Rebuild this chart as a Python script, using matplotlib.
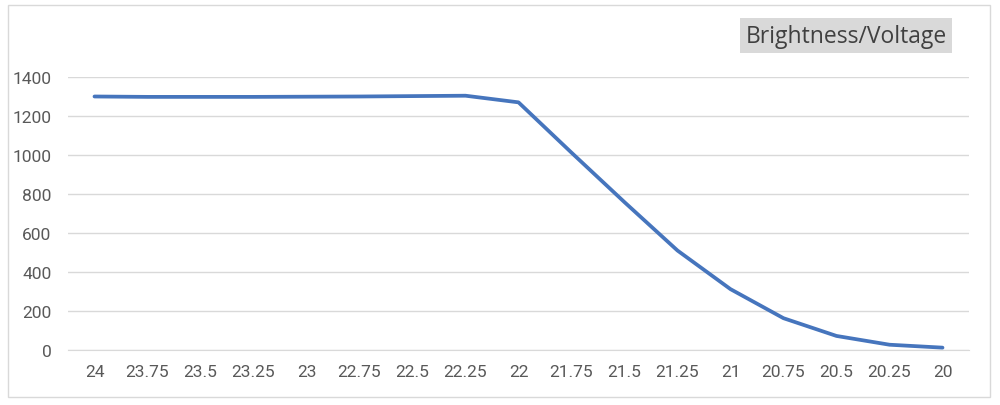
import matplotlib
matplotlib.use("Agg")
import matplotlib.pyplot as plt
from matplotlib.patches import Rectangle

voltage = ['24', '23.75', '23.5', '23.25', '23', '22.75', '22.5', '22.25', '22',
           '21.75', '21.5', '21.25', '21', '20.75', '20.5', '20.25', '20']
brightness = [1300, 1298, 1298, 1298, 1299, 1300, 1302, 1304, 1270,
              1012, 758, 510, 312, 163, 72, 27, 12]
yticks = [0, 200, 400, 600, 800, 1000, 1200, 1400]

plt.rcParams['font.family'] = ['Roboto', 'DejaVu Sans']

fig = plt.figure(figsize=(10, 4.06), dpi=100)
fig.patches.append(Rectangle((0.008, 0.02), 0.982, 0.965, transform=fig.transFigure,
                             fill=False, edgecolor='#d9d9d9', linewidth=1))

ax = fig.add_axes([0.068, 0.1355, 0.901, 0.6724])
x = range(len(voltage))
ax.plot(x, brightness, color='#4675bd', linewidth=2.7, solid_capstyle='round')

ax.set_xlim(-0.5, len(voltage) - 0.5)
ax.set_ylim(0, 1400)
ax.set_yticks(yticks)
ax.set_xticks(list(x))
ax.set_xticklabels(voltage)
ax.grid(axis='y', color='#d9d9d9', linewidth=1)
ax.set_axisbelow(True)
for s in ax.spines.values():
    s.set_visible(False)
ax.spines['bottom'].set_visible(True)
ax.spines['bottom'].set_color('#d9d9d9')
ax.tick_params(length=0, labelsize=12.5, colors='#595959', pad=10)
ax.tick_params(axis='y', pad=12)

fig.text(0.846, 0.91, 'Brightness/Voltage', ha='center', va='center',
         fontsize=16.5, color='#404040', family=['Open Sans', 'DejaVu Sans'],
         bbox=dict(facecolor='#d9d9d9', edgecolor='none', pad=4))

fig.savefig('out.png', dpi=100, facecolor='white')
